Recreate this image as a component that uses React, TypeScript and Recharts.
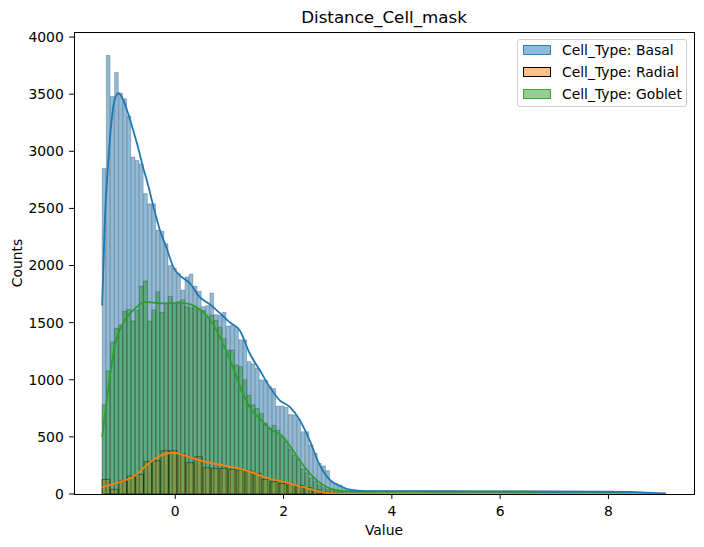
import React from 'react'
import { ComposedChart, Bar, Line, XAxis, YAxis } from 'recharts'

// axis ranges (matplotlib auto-limits: data range + 5% margins)
const X_MIN = -1.87
const X_MAX = 9.58
const Y_MAX = 4040
const X_TICKS = [0, 2, 4, 6, 8]
const Y_TICKS = [0, 500, 1000, 1500, 2000, 2500, 3000, 3500, 4000]

// histogram bins
const BIN_START = -1.35
const BASAL_BIN = 0.0765
const GOBLET_BIN = 0.0765
const RADIAL_BIN = 0.1554

const basalCounts = [
  2850, 3840, 3480, 3690, 3510, 3460, 3310, 2950, 2920, 2890,
  2630, 2540, 2540, 2310, 2300, 2190, 2000, 1975, 1930, 1785,
  1900, 1925, 1820, 1775, 1640, 1650, 1760, 1570, 1565, 1590,
  1470, 1480, 1460, 1350, 1350, 1160, 1140, 1100, 1000, 995,
  940, 924, 770, 770, 758, 697, 691, 653, 545, 545,
  429, 356, 268, 245, 204, 108, 93, 79, 50, 35,
  28, 25, 22, 21, 22, 23, 21, 24, 22, 25,
  23, 24, 26, 22, 25, 24, 23, 26, 25, 24,
  22, 24, 25, 23, 26, 24, 22, 25, 23, 24,
  25, 22, 23, 24, 21, 23, 24, 22, 23, 21,
  22, 24, 22, 21, 23, 22, 20, 22, 21, 23,
  20, 21, 22, 20, 19, 21, 20, 18, 20, 19,
  19, 18, 19, 18, 17, 18, 17, 16, 17, 15,
  14, 12, 10, 8, 6, 5,
]

const gobletCounts = [
  780, 1078, 1330, 1450, 1480, 1600, 1615, 1515, 1610, 1820,
  1865, 1515, 1610, 1770, 1590, 1670, 1730, 1670, 1685, 1700,
  1640, 1630, 1640, 1615, 1605, 1545, 1565, 1520, 1460, 1360,
  1260, 1260, 1130, 1115, 1000, 865, 780, 750, 705, 620,
  575, 600, 560, 500, 460, 390, 340, 300, 220, 185,
  140, 110, 80, 55, 40, 32, 28, 25, 24, 22,
  21, 20, 22, 19, 21, 20, 22, 21, 19, 20,
  21, 22, 20, 19, 21, 20, 22, 20, 21, 19,
  20, 21, 19, 20, 22, 20, 19, 21, 20, 19,
  20, 19, 21, 20, 18, 20, 19, 20, 18, 19,
  20, 18, 19, 17, 19, 18, 17, 19, 18, 17,
  18, 17, 16, 18, 17, 16, 17, 15, 16, 15,
  16, 15, 14, 15, 14, 13, 14, 12, 13, 11,
  10, 8, 6, 4,
]

const radialCounts = [
  128, 41, 114, 157, 172, 283, 291, 379, 379, 350,
  274, 326, 230, 225, 225, 216, 210, 201, 181, 128,
  108, 93, 85, 75, 55, 35, 18, 10, 6, 4,
  3, 3, 2, 2, 3, 2, 2, 3, 2, 2,
  2, 2, 3, 2, 2, 2, 2, 3, 2, 2,
  2, 2, 2, 2, 2, 2, 1, 2, 2, 1,
  2, 1, 1, 2, 1, 1, 1,
]

// kde curves
const basalKdeX = [-1.35, -1.3, -1.24, -1.18, -1.12, -1.05, -0.97, -0.87, -0.78, -0.69, -0.6, -0.5, -0.4, -0.29, -0.15, -0.04, 0.08, 0.27, 0.45, 0.64, 0.82, 1.0, 1.19, 1.375, 1.56, 1.74, 1.93, 2.11, 2.3, 2.48, 2.67, 2.85, 3.04, 3.25, 3.5, 4.0, 5.0, 6.0, 7.0, 8.0, 8.6, 9.06]
const basalKdeY = [1650, 2400, 2890, 3250, 3450, 3510, 3460, 3330, 3190, 3040, 2870, 2700, 2510, 2320, 2140, 1990, 1915, 1845, 1725, 1660, 1585, 1505, 1434, 1230, 1085, 940, 820, 765, 647, 472, 250, 125, 70, 35, 26, 25, 24, 23, 22, 20, 15, 5]

const radialKdeX = [-1.35, -1.1, -0.87, -0.7, -0.56, -0.4, -0.25, -0.06, 0.1, 0.24, 0.54, 0.85, 1.16, 1.47, 1.71, 1.99, 2.2, 2.4, 2.55, 2.73, 2.95, 3.3, 4, 5, 6, 7, 8, 9.0]
const radialKdeY = [59, 95, 129, 175, 239, 300, 341, 361, 350, 326, 283, 254, 225, 181, 137, 108, 80, 55, 35, 15, 6, 3, 2, 2, 2, 1, 1, 1]

const gobletKdeX = [-1.35, -1.24, -1.12, -0.93, -0.75, -0.56, -0.25, 0.11, 0.48, 0.67, 0.85, 1.04, 1.22, 1.41, 1.59, 1.74, 1.99, 2.17, 2.36, 2.54, 2.73, 2.91, 3.13, 3.5, 4, 5, 6, 7, 8, 8.5, 8.85]
const gobletKdeY = [501, 910, 1288, 1522, 1620, 1682, 1668, 1673, 1609, 1507, 1347, 1143, 910, 735, 647, 574, 501, 385, 254, 152, 79, 41, 26, 22, 21, 20, 20, 19, 16, 12, 5]

const BLUE = '#1f77b4'
const ORANGE = '#ff7f0e'
const GREEN = '#2ca02c'

// layout
const W = 704
const H = 547
const PLOT_LEFT = 74
const PLOT_TOP = 32.5
const PLOT_W = 620
const PLOT_H = 461.5
const PX_PER_UNIT = PLOT_W / (X_MAX - X_MIN)
const FONT = 13.9

const rows = basalCounts.map((c, i) => ({
  xb: BIN_START + (i + 0.5) * BASAL_BIN,
  basal: c,
  xg: i < gobletCounts.length ? BIN_START + (i + 0.5) * GOBLET_BIN : null,
  goblet: i < gobletCounts.length ? gobletCounts[i] : null,
  xr: i < radialCounts.length ? BIN_START + (i + 0.5) * RADIAL_BIN : null,
  radial: i < radialCounts.length ? radialCounts[i] : null,
}))

const kde = (xs: number[], ys: number[]) => xs.map((x, i) => ({ x, v: ys[i] }))

const tickFont = { fill: '#000', fontSize: FONT, fontFamily: 'DejaVu Sans' }

const legendItems = [
  { label: 'Cell_Type: Basal', fill: 'rgba(31,119,180,0.5)', edge: 'rgba(31,119,180,0.85)' },
  { label: 'Cell_Type: Radial', fill: 'rgba(255,127,14,0.5)', edge: '#000' },
  { label: 'Cell_Type: Goblet', fill: 'rgba(44,160,44,0.5)', edge: 'rgba(44,160,44,0.85)' },
]

export default function App() {
  const hiddenX = { type: 'number' as const, domain: [X_MIN, X_MAX], allowDataOverflow: true, hide: true }
  return (
    <div
      style={{
        position: 'absolute',
        left: 0,
        top: 0,
        width: W,
        height: H,
        background: '#fff',
        fontFamily: '"DejaVu Sans", sans-serif',
        color: '#000',
      }}
    >
      <div style={{ position: 'absolute', left: PLOT_LEFT, width: PLOT_W, top: 7, lineHeight: '20px', textAlign: 'center', fontSize: 16.7 }}>
        Distance_Cell_mask
      </div>
      <ComposedChart width={W} height={H} data={rows} margin={{ top: PLOT_TOP, right: 10, bottom: 23, left: 0 }}>
        <XAxis
          xAxisId="b"
          dataKey="xb"
          type="number"
          domain={[X_MIN, X_MAX]}
          allowDataOverflow
          ticks={X_TICKS}
          height={30}
          axisLine={false}
          tickLine={{ stroke: '#000' }}
          tickSize={4.9}
          tickMargin={7.2}
          tick={tickFont}
        />
        <XAxis xAxisId="g" dataKey="xg" {...hiddenX} />
        <XAxis xAxisId="r" dataKey="xr" {...hiddenX} />
        <XAxis xAxisId="k" dataKey="x" {...hiddenX} />
        <YAxis
          type="number"
          domain={[0, Y_MAX]}
          allowDataOverflow
          ticks={Y_TICKS}
          width={PLOT_LEFT}
          axisLine={false}
          tickLine={{ stroke: '#000' }}
          tickSize={4.9}
          tickMargin={5.3}
          tick={tickFont}
        />
        <Bar
          xAxisId="b"
          dataKey="basal"
          barSize={BASAL_BIN * PX_PER_UNIT}
          fill={BLUE}
          fillOpacity={0.5}
          stroke="#000"
          strokeOpacity={0.3}
          strokeWidth={0.7}
          isAnimationActive={false}
        />
        <Bar
          xAxisId="r"
          dataKey="radial"
          barSize={RADIAL_BIN * PX_PER_UNIT}
          fill={ORANGE}
          fillOpacity={0.5}
          stroke="#000"
          strokeOpacity={0.75}
          strokeWidth={0.9}
          isAnimationActive={false}
        />
        <Bar
          xAxisId="g"
          dataKey="goblet"
          barSize={GOBLET_BIN * PX_PER_UNIT}
          fill={GREEN}
          fillOpacity={0.5}
          stroke="#000"
          strokeOpacity={0.3}
          strokeWidth={0.7}
          isAnimationActive={false}
        />
        <Line xAxisId="k" data={kde(gobletKdeX, gobletKdeY)} dataKey="v" type="monotone" stroke={GREEN} strokeWidth={1.8} dot={false} activeDot={false} isAnimationActive={false} />
        <Line xAxisId="k" data={kde(radialKdeX, radialKdeY)} dataKey="v" type="monotone" stroke={ORANGE} strokeWidth={1.8} dot={false} activeDot={false} isAnimationActive={false} />
        <Line xAxisId="k" data={kde(basalKdeX, basalKdeY)} dataKey="v" type="monotone" stroke={BLUE} strokeWidth={1.8} dot={false} activeDot={false} isAnimationActive={false} />
      </ComposedChart>
      {/* axes frame (all four spines) */}
      <div
        style={{
          position: 'absolute',
          left: PLOT_LEFT - 0.5,
          top: PLOT_TOP - 0.5,
          width: PLOT_W + 1,
          height: PLOT_H + 1,
          border: '1px solid #000',
          boxSizing: 'border-box',
          pointerEvents: 'none',
        }}
      />
      <div style={{ position: 'absolute', left: PLOT_LEFT, width: PLOT_W, top: 521, lineHeight: '18px', textAlign: 'center', fontSize: FONT }}>
        Value
      </div>
      <div
        style={{
          position: 'absolute',
          left: 17 - 40,
          top: PLOT_TOP + PLOT_H / 2 - 9,
          width: 80,
          lineHeight: '18px',
          textAlign: 'center',
          fontSize: FONT,
          transform: 'rotate(-90deg)',
        }}
      >
        Counts
      </div>
      <div
        style={{
          position: 'absolute',
          left: 517,
          top: 39,
          width: 170,
          height: 68,
          boxSizing: 'border-box',
          border: '1px solid #d0d0d0',
          borderRadius: 3,
          background: 'rgba(255,255,255,0.8)',
        }}
      >
        {legendItems.map((it, i) => (
          <div
            key={it.label}
            style={{
              position: 'absolute',
              left: 0,
              top: i * 22 - 0.5,
              height: 20,
              display: 'flex',
              alignItems: 'center',
              fontSize: FONT,
              whiteSpace: 'nowrap',
            }}
          >
            <span
              style={{
                display: 'inline-block',
                width: 28,
                height: 10,
                marginLeft: 5,
                marginRight: 11,
                background: it.fill,
                border: `1px solid ${it.edge}`,
                boxSizing: 'border-box',
              }}
            />
            <span>{it.label}</span>
          </div>
        ))}
      </div>
    </div>
  )
}
